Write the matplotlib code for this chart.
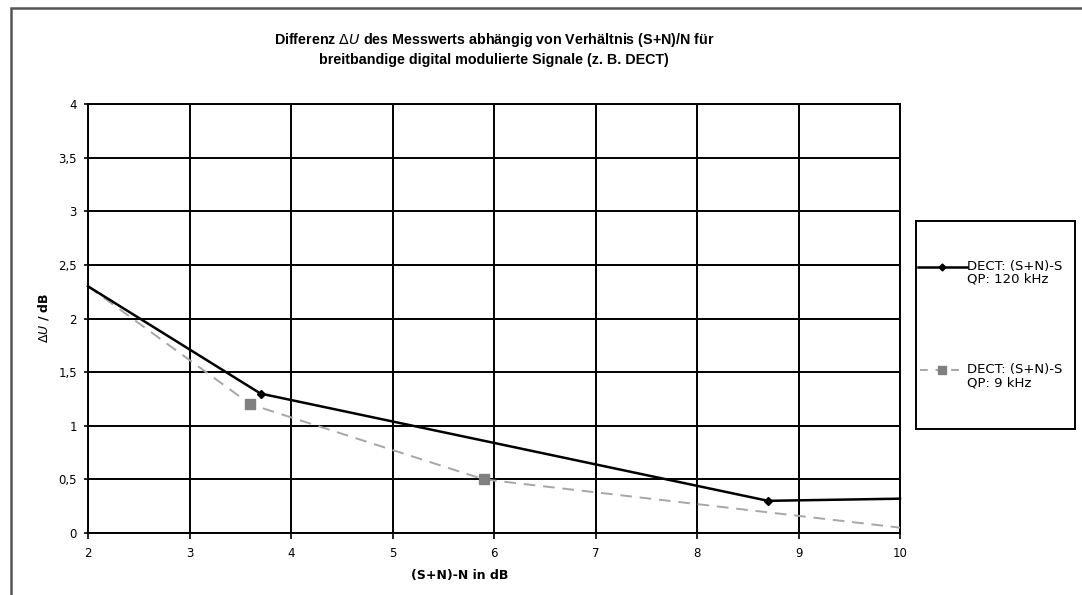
import matplotlib
matplotlib.use("Agg")
import matplotlib.pyplot as plt
from matplotlib.patches import Rectangle
from matplotlib.lines import Line2D

# Data
x_qp120 = [2.0, 3.7, 8.7, 10.0]
y_qp120 = [2.3, 1.3, 0.3, 0.32]
x_qp9 = [2.0, 3.6, 5.9, 10.0]
y_qp9 = [2.3, 1.2, 0.5, 0.05]
label_qp120 = "DECT: (S+N)-S\nQP: 120 kHz"
label_qp9 = "DECT: (S+N)-S\nQP: 9 kHz"
x_ticks = [2, 3, 4, 5, 6, 7, 8, 9, 10]
y_ticks = [0, 0.5, 1, 1.5, 2, 2.5, 3, 3.5, 4]
y_ticklabels = ["0", "0,5", "1", "1,5", "2", "2,5", "3", "3,5", "4"]

plt.rcParams['font.family'] = ['DejaVu Sans']

W, H = 1082, 595
fig = plt.figure(figsize=(W / 100, H / 100), dpi=100)

# outer frame
fig.patches.append(Rectangle((11 / W, -0.05), 1.2, 1 - 8 / H + 0.05, transform=fig.transFigure,
                             fill=False, edgecolor='#555555', linewidth=1.8))

ax = fig.add_axes([88 / W, 1 - 533 / H, (900 - 88) / W, (533 - 104) / H])
ax.set_xlim(2, 10)
ax.set_ylim(0, 4)
ax.set_xticks(x_ticks)
ax.set_yticks(y_ticks)
ax.set_yticklabels(y_ticklabels)
ax.grid(True, color='black', linewidth=1.4)
ax.set_axisbelow(True)
for s in ax.spines.values():
    s.set_linewidth(1.4)
    s.set_color('black')
ax.tick_params(axis='both', labelsize=8.5, width=1.2, colors='black')
ax.tick_params(axis='x', length=4, pad=6)
ax.tick_params(axis='y', length=3, pad=5)

ax.plot(x_qp120, y_qp120, color='black', linewidth=1.8, marker='D', markersize=4,
        markevery=[1, 2], label=label_qp120, clip_on=False, zorder=4)
ax.plot(x_qp9, y_qp9, color='#a6a6a6', linewidth=1.4, linestyle=(0, (6, 4)), marker='s',
        markersize=7, markerfacecolor='#808080', markeredgecolor='#808080',
        markevery=[1, 2], label=label_qp9, zorder=3)

fig.text(494 / W, 1 - 49 / H,
         "Differenz $\\Delta U$ des Messwerts abhängig von Verhältnis (S+N)/N für\n"
         "breitbandige digital modulierte Signale (z. B. DECT)",
         ha='center', va='center', fontsize=10.3, fontweight='bold', linespacing=1.35,
         family=['Liberation Sans', 'DejaVu Sans'])

fig.text(43 / W, 1 - 318 / H, "$\\Delta U$ / dB", rotation=90, ha='center', va='center',
         fontsize=9, fontweight='bold')
fig.text(460 / W, 1 - 575 / H, "(S+N)-N in dB", ha='center', va='center',
         fontsize=9, fontweight='bold')

# legend box
lax = fig.add_axes([916 / W, 1 - 429 / H, (1075 - 916) / W, (429 - 221) / H])
lax.set_xlim(916, 1075)
lax.set_ylim(429, 221)
lax.set_xticks([])
lax.set_yticks([])
for s in lax.spines.values():
    s.set_linewidth(1.4)
    s.set_color('black')
lax.add_line(Line2D([918, 967], [267, 267], color='black', linewidth=1.8))
lax.plot([942], [267], marker='D', color='black', markersize=3.5)
lax.add_line(Line2D([920, 966], [370, 370], color='#a6a6a6', linewidth=1.4, linestyle=(0, (4, 4))))
lax.plot([942], [370], marker='s', color='#808080', markersize=6)
lax.text(967, 260, label_qp120, ha='left', va='top', fontsize=9.5, linespacing=1.0)
lax.text(967, 363, label_qp9, ha='left', va='top', fontsize=9.5, linespacing=1.0)

fig.savefig("out.png", dpi=100)
